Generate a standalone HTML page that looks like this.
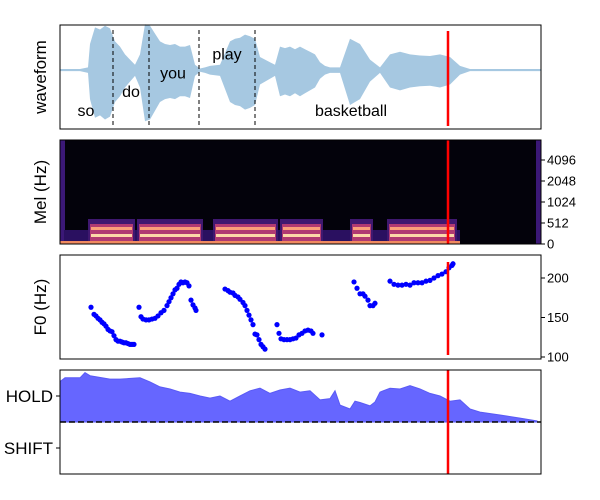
<!DOCTYPE html>
<html><head><meta charset="utf-8"><style>
body{margin:0;background:#fff;}
svg{display:block;font-family:"Liberation Sans",sans-serif;}
</style></head><body>
<svg id="c" width="600" height="500" xmlns="http://www.w3.org/2000/svg"></svg>
<script>
// frames (10 ms) 0..481
const waveFrames=[0,10,20,28,30,35,40,45,50,55,60,65,70,75,80,85,90,95,100,105,110,115,120,125,130,135,140,145,150,160,170,175,180,185,190,195,200,205,210,215,220,225,230,235,240,245,250,255,260,265,270,280,290,300,310,320,330,340,350,360,370,380,390,400,410,420,430,440,450,460,470,480];
const waveAmp=[0.02,0.02,0.02,0.05,0.5,0.82,0.78,0.85,0.8,0.55,0.45,0.3,0.2,0.1,0.3,0.88,0.85,0.7,0.55,0.5,0.48,0.5,0.45,0.45,0.48,0.1,0.03,0.05,0.08,0.1,0.55,0.6,0.62,0.68,0.65,0.6,0.25,0.2,0.15,0.1,0.45,0.42,0.45,0.4,0.45,0.4,0.35,0.3,0.15,0.08,0.05,0.05,0.6,0.5,0.2,0.05,0.3,0.35,0.3,0.28,0.27,0.3,0.25,0.08,0.02,0.02,0.02,0.02,0.02,0.02,0.02,0.02];
const words=["so","do","you","play","basketball"];
const wordFrames=[26,71,113,167,291];
const wordLevels=[-0.77,-0.4,-0.05,0.32,-0.77];
const boundaries=[53,89,139,195];
const melSegStart=[28,77,153,220,290,327];
const melSegEnd=[75,143,218,263,313,397];
const melTicks=[0,512,1024,2048,4096];
const melTickY=[244,223,202,181,160];
const f0Frames=[31,34,36,38,40,42,44,46,48,50,52,54,56,58,60,62,64,66,68,70,72,74,
79,81,83,86,89,92,95,98,101,104,107,109,111,113,115,117,119,121,123,125,127,129,131,133,135,136,
165,168,170,173,175,178,180,183,185,187,189,191,193,195,197,199,201,203,205,
217,219,221,224,227,230,233,236,239,242,245,248,251,253,262,
294,297,300,303,305,308,310,313,315,
330,334,338,342,346,350,354,358,362,366,370,374,378,382,386,389,392,393];
const f0Values=[163,154,152,149,147,144,142,139,135,133,132,127,122,120,120,119,118,118,117,116,116,116,
163,151,148,147,147,148,149,152,156,159,165,170,175,180,185,187,192,195,194,195,194,190,172,166,162,159,
186,184,182,181,178,176,173,169,165,159,153,147,141,129,128,122,116,113,110,
141,130,123,122,122,122,123,124,128,130,133,134,133,130,128,
195,187,180,180,177,172,165,165,168,
196,192,191,191,192,191,194,194,194,196,197,200,203,205,208,213,216,218];
const f0Ticks=[100,150,200];
const holdFrames=[0,5,20,25,30,50,60,80,90,100,110,120,130,140,150,160,170,180,190,200,210,220,230,240,250,260,270,275,280,290,295,300,310,315,320,330,340,350,360,370,380,390,400,410,420,440,460,477];
const holdValues=[1.55,1.7,1.7,1.9,1.78,1.65,1.65,1.7,1.54,1.35,1.27,1.15,1.1,1.0,0.92,1.0,0.8,1.0,1.2,1.3,1.1,1.23,1.3,1.15,1.2,0.85,0.9,1.2,0.65,0.5,0.8,0.75,0.62,0.77,1.15,1.3,1.27,1.4,1.27,1.1,1.0,0.8,0.85,0.5,0.38,0.27,0.15,0.04];
const cursorFrame=388;

const svg=document.getElementById('c');
const NS='http://www.w3.org/2000/svg';
function mk(tag,attrs,parent){const e=document.createElementNS(NS,tag);for(const k in attrs)e.setAttribute(k,attrs[k]);(parent||svg).appendChild(e);return e;}
const X0=60,X1=541;
const xs=f=>X0+f*(X1-X0)/481;
const P=[{t:25,b:129},{t:140,b:244},{t:255,b:359},{t:370,b:474}];

// waveform
const wy=v=>70-v*52;
let pts=waveFrames.map((f,i)=>xs(f)+','+wy(waveAmp[i]));
pts=pts.concat(waveFrames.slice().reverse().map((f,i)=>{const a=waveAmp[waveAmp.length-1-i];return xs(f)+','+wy(-a*1.12);}));
let e=mk('polygon',{points:pts.join(' '),fill:'#a6c8e1'});


e=mk('line',{x1:X0,x2:X1,y1:70,y2:70,stroke:'#a6c8e1','stroke-width':2});


boundaries.forEach(f=>{e=mk('line',{x1:xs(f),x2:xs(f),y1:30,y2:127,stroke:'#000','stroke-width':1,'stroke-dasharray':'4,3'});

});
words.forEach((w,i)=>{e=mk('text',{x:xs(wordFrames[i]),y:wy(wordLevels[i])+6,'font-size':16,'text-anchor':'middle',fill:'#000'});e.textContent=w;

});

// mel
e=mk('rect',{x:X0,y:140,width:X1-X0,height:104,fill:'#03020b'});


mk('rect',{x:X0,y:140,width:5,height:104,fill:'#3b1877'});
mk('rect',{x:536,y:140,width:5,height:104,fill:'#3b1877'});
mk('rect',{x:X0+4,y:230,width:xs(400)-X0-4,height:14,fill:'#2a1060'});
melSegStart.forEach((s,i)=>{const x=xs(s),w=xs(melSegEnd[i])-x;
e=mk('rect',{x:x,y:219,width:w,height:25,fill:'#3f1870'});


mk('rect',{x:x+2,y:224,width:w-4,height:18,fill:'#b13a72'});
mk('rect',{x:x+3,y:227,width:w-6,height:3,fill:'#fba07a'});
mk('rect',{x:x+3,y:234,width:w-6,height:3,fill:'#fdd8a8'});
});
mk('rect',{x:X0,y:241,width:xs(400)-X0,height:3,fill:'#f08a60'});
melTicks.forEach((t,i)=>{mk('line',{x1:X1,x2:X1+4,y1:melTickY[i],y2:melTickY[i],stroke:'#000'});
e=mk('text',{x:X1+6,y:melTickY[i]+4.5,'font-size':13});e.textContent=t;

});

// f0
const fy=v=>357-(v-100)*0.79;
f0Frames.forEach((f,i)=>{e=mk('circle',{cx:xs(f),cy:fy(f0Values[i]),r:2.6,fill:'#0000ff'});

});
f0Ticks.forEach(t=>{mk('line',{x1:X1,x2:X1+4,y1:fy(t),y2:fy(t),stroke:'#000'});
e=mk('text',{x:X1+6,y:fy(t)+4.5,'font-size':13});e.textContent=t;

});

// hold/shift
const hy=v=>422-v*26;
let hp=holdFrames.map((f,i)=>xs(f)+','+hy(holdValues[i]));
hp.push(xs(holdFrames[holdFrames.length-1])+','+hy(0));hp.push(xs(0)+','+hy(0));
e=mk('polygon',{points:hp.join(' '),fill:'#6666ff',stroke:'#5a5af5','stroke-width':1});


e=mk('line',{x1:X0,x2:X1,y1:422,y2:422,stroke:'#000','stroke-width':1.5,'stroke-dasharray':'6,3'});


[['HOLD',1],['SHIFT',-1]].forEach(([l,v])=>{mk('line',{x1:X0-4,x2:X0,y1:hy(v),y2:hy(v),stroke:'#000'});
e=mk('text',{x:X0-7,y:hy(v)+6,'font-size':17,'text-anchor':'end'});e.textContent=l;

});

// cursor
[[31,126],[140,244],[262,355],[370,474]].forEach(([a,b])=>{e=mk('line',{x1:xs(cursorFrame),x2:xs(cursorFrame),y1:a,y2:b,stroke:'#ff0000','stroke-width':2.5});

});

// frames and titles
const titles=['waveform','Mel (Hz)','F0 (Hz)'];
P.forEach((p,i)=>{e=mk('rect',{x:X0,y:p.t,width:X1-X0,height:p.b-p.t,fill:'none',stroke:'#000','stroke-width':1});


if(i<3){const cy=(p.t+p.b)/2;e=mk('text',{x:46,y:cy,'font-size':17,'text-anchor':'middle',transform:`rotate(-90 46 ${cy})`});e.textContent=titles[i];

}});
</script>
</body></html>
